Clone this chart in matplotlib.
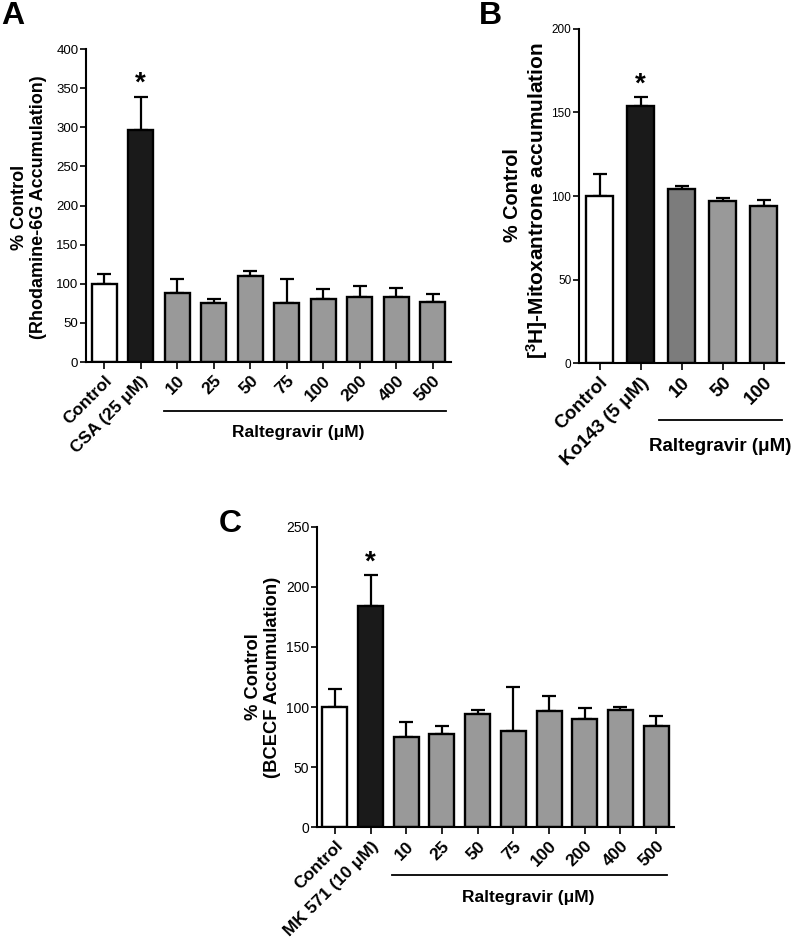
import matplotlib.pyplot as plt
from matplotlib.transforms import blended_transform_factory

plt.rcParams['font.family'] = ['Liberation Sans', 'DejaVu Sans']
# sobrescrito do [3H] em negrito com a mesma fonte
plt.rcParams['mathtext.fontset'] = 'custom'
plt.rcParams['mathtext.rm'] = 'Liberation Sans:bold'
plt.rcParams['mathtext.default'] = 'rm'

# painel A - acumulo de rodamina-6G
a_labels = ['Control', 'CSA (25 μM)', '10', '25', '50', '75', '100', '200', '400', '500']
a_vals = [100, 296, 88, 75, 110, 76, 80, 83, 83, 77]
a_err = [12, 43, 18, 6, 6, 30, 13, 14, 12, 10]
a_ticks = [0, 50, 100, 150, 200, 250, 300, 350, 400]

# painel B - mitoxantrona
b_labels = ['Control', 'Ko143 (5 μM)', '10', '50', '100']
b_vals = [100, 154, 104, 97, 94]
b_err = [13, 5, 2, 2, 3.5]
b_ticks = [0, 50, 100, 150, 200]

# painel C - BCECF
c_labels = ['Control', 'MK 571 (10 μM)', '10', '25', '50', '75', '100', '200', '400', '500']
c_vals = [100, 184, 75, 78, 94, 80, 97, 90, 98, 84]
c_err = [15, 25.5, 13, 6, 4, 37, 12, 9, 2, 9]
c_ticks = [0, 50, 100, 150, 200, 250]

GRAY = '#999999'
a_colors = ['white', '#1a1a1a'] + [GRAY] * 8
b_colors = ['white', '#1a1a1a', '#7c7c7c', GRAY, GRAY]
c_colors = ['white', '#1a1a1a'] + [GRAY] * 8


def panel(ax, labels, vals, err, colors, ticks, line_x, line_y, txt_x, txt_y,
          fs=12.5, yfs=9.5, bw=0.68):
    x = list(range(len(vals)))
    ax.errorbar(x, vals, yerr=[[0] * len(err), err], fmt='none', ecolor='black',
                elinewidth=1.6, capsize=5, capthick=1.6, zorder=1)
    ax.bar(x, vals, width=bw, color=colors, edgecolor='black', linewidth=1.7, zorder=2)
    ax.set_xlim(-0.5, len(vals) - 0.5)
    ax.set_ylim(ticks[0], ticks[-1])
    ax.set_yticks(ticks)
    ax.set_xticks(x)
    ax.set_xticklabels(labels, rotation=45, ha='right', rotation_mode='anchor',
                       fontsize=fs, fontweight='bold')
    ax.tick_params(axis='y', labelsize=yfs, length=4.5, width=1.2, pad=1)
    ax.tick_params(axis='x', length=5, width=1.2, pad=3)
    for s in ['top', 'right']:
        ax.spines[s].set_visible(False)
    for s in ['left', 'bottom']:
        ax.spines[s].set_linewidth(1.5)
    # asterisco sobre a barra do inibidor
    ax.annotate('*', (1, vals[1] + err[1]), xytext=(0, 0), textcoords='offset points',
                ha='center', va='bottom', fontsize=20, fontweight='bold')
    tr = blended_transform_factory(ax.transData, ax.transAxes)
    ax.plot(line_x, [line_y, line_y], color='black', lw=1.3, transform=tr, clip_on=False)
    ax.text(txt_x, txt_y, 'Raltegravir (μM)', transform=tr, ha='center', va='center',
            fontsize=fs, fontweight='bold')


fig = plt.figure(figsize=(8, 9.41), dpi=100)

axA = fig.add_axes([0.1075, 0.6153, 0.4563, 0.3326])
panel(axA, a_labels, a_vals, a_err, a_colors, a_ticks, [1.64, 9.35], -0.157, 5.32, -0.224)
axB = fig.add_axes([0.7238, 0.6142, 0.25625, 0.355])
panel(axB, b_labels, b_vals, b_err, b_colors, b_ticks, [1.44, 4.46], -0.171, 2.95, -0.251,
      fs=13.5, yfs=8.5, bw=0.65)
axC = fig.add_axes([0.39625, 0.1208, 0.44625, 0.3194])
panel(axC, c_labels, c_vals, c_err, c_colors, c_ticks, [1.61, 9.31], -0.158, 5.42, -0.233,
      yfs=10, bw=0.7)

# rotulos do eixo y
fig.text(29 / 800, 1 - 207 / 941, '% Control\n(Rhodamine-6G Accumulation)', rotation=90,
         ha='center', va='center', ma='center', fontsize=13, fontweight='bold')
fig.text(513 / 800, 1 - 195 / 941, '% Control', rotation=90,
         ha='center', va='center', fontsize=14.3, fontweight='bold')
fig.text(537 / 800, 1 - 201 / 941, '[$^{3}$H]-Mitoxantrone accumulation', rotation=90,
         ha='center', va='center', fontsize=15, fontweight='bold')
fig.text(263 / 800, 1 - 677 / 941, '% Control\n(BCECF Accumulation)', rotation=90,
         ha='center', va='center', ma='center', fontsize=13.2, fontweight='bold')

# letras dos paineis
fig.text(0.002, 1 - 16 / 941, 'A', ha='left', va='center', fontsize=23, fontweight='bold')
fig.text(479 / 800, 1 - 16 / 941, 'B', ha='left', va='center', fontsize=23, fontweight='bold')
fig.text(219 / 800, 1 - 524 / 941, 'C', ha='left', va='center', fontsize=23, fontweight='bold')

fig.savefig('out.png', dpi=100)
